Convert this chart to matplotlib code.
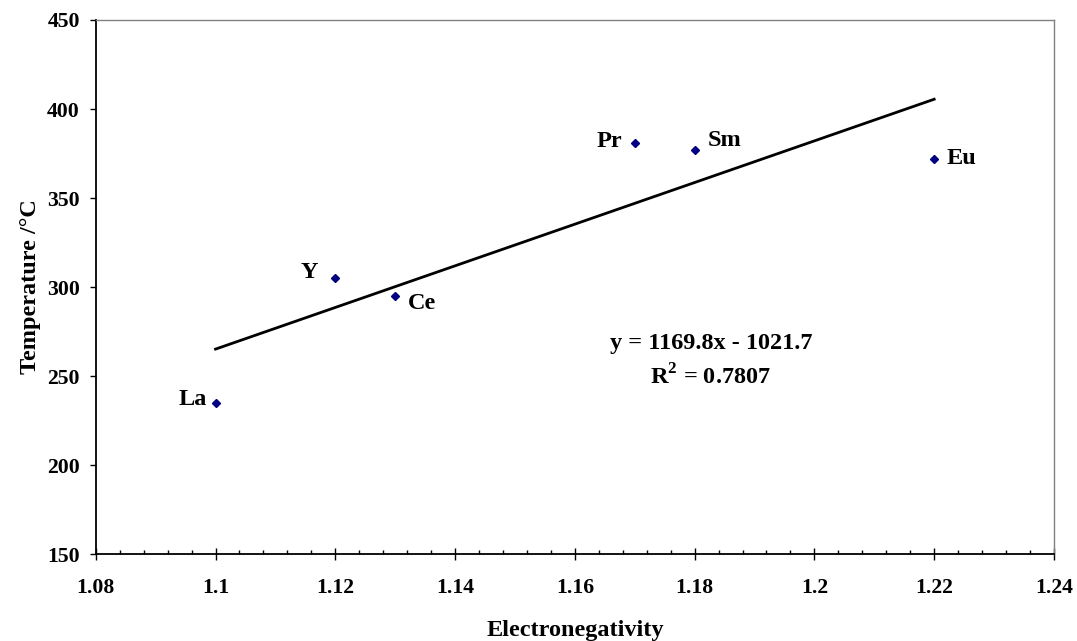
import numpy as np
import matplotlib
matplotlib.use('Agg')
import matplotlib.pyplot as plt
from matplotlib.ticker import MultipleLocator

# data
elements = ['La', 'Y', 'Ce', 'Pr', 'Sm', 'Eu']
electroneg = [1.10, 1.12, 1.13, 1.17, 1.18, 1.22]
temperature = [235, 305, 295, 381, 377, 372]

# label offsets in pixels (dx, dy, ha)
label_pos = {
    'La': (-9, 3, 'right'),
    'Y': (-17, 6, 'right'),
    'Ce': (13, -8, 'left'),
    'Pr': (-13, 1, 'right'),
    'Sm': (13, 9, 'left'),
    'Eu': (12, 0, 'left'),
}

plt.rcParams['font.family'] = ['Liberation Serif', 'DejaVu Serif']
plt.rcParams['font.weight'] = 'bold'
plt.rcParams['mathtext.fontset'] = 'custom'
plt.rcParams['mathtext.rm'] = 'Liberation Serif:bold'
plt.rcParams['mathtext.bf'] = 'Liberation Serif:bold'
tick_fs = 15.7
fs = 17.5

fig = plt.figure(figsize=(10.77, 6.41), dpi=100)
ax = fig.add_axes([0.0889, 0.1357, 0.8897, 0.8331])

# linear trendline
coef = np.polyfit(electroneg, temperature, 1)
xs = np.array([min(electroneg), max(electroneg)])
ax.plot(xs, np.polyval(coef, xs), color='black', lw=2.0, zorder=2)

ax.plot(electroneg, temperature, linestyle='none', marker='D', ms=4.2,
        color='#000080', zorder=3)

for name, x, y in zip(elements, electroneg, temperature):
    dx, dy, ha = label_pos[name]
    ax.annotate(name, (x, y), xytext=(dx, dy), textcoords='offset pixels',
                ha=ha, va='center', fontsize=fs, fontweight='bold')

ax.text(1.1827, 268.5, 'y = 1169.8x - 1021.7', ha='center', va='center',
        fontsize=fs, fontweight='bold')
ax.text(1.1827, 249.4, r'R$^{\mathbf{2}}$ = 0.7807', ha='center', va='center',
        fontsize=fs, fontweight='bold')

ax.set_xlim(1.08, 1.24)
ax.set_ylim(150, 450)
ax.xaxis.set_minor_locator(MultipleLocator(0.004))
ax.yaxis.set_major_locator(MultipleLocator(50))
ax.set_xticks(np.arange(1.08, 1.2401, 0.02))
ax.set_xticklabels(['1.08', '1.1', '1.12', '1.14', '1.16', '1.18', '1.2', '1.22', '1.24'])

ax.tick_params(axis='x', which='major', direction='inout', length=8, width=1,
               pad=13, labelsize=tick_fs, top=False)
ax.tick_params(axis='x', which='minor', direction='in', length=3, width=1, top=False)
ax.tick_params(axis='y', which='major', direction='out', length=4.5, width=1,
               pad=7, labelsize=tick_fs, right=False)
for lbl in ax.get_xticklabels() + ax.get_yticklabels():
    lbl.set_fontweight('bold')

for side in ['left', 'bottom']:
    ax.spines[side].set_color('black')
    ax.spines[side].set_linewidth(1.3)
for side in ['top', 'right']:
    ax.spines[side].set_color('#808080')
    ax.spines[side].set_linewidth(1.0)

ax.set_xlabel('Electronegativity', fontsize=fs, fontweight='bold', labelpad=16)
ax.set_ylabel('Temperature /°C', fontsize=fs, fontweight='bold', labelpad=4)

fig.savefig('out.png', dpi=100)
